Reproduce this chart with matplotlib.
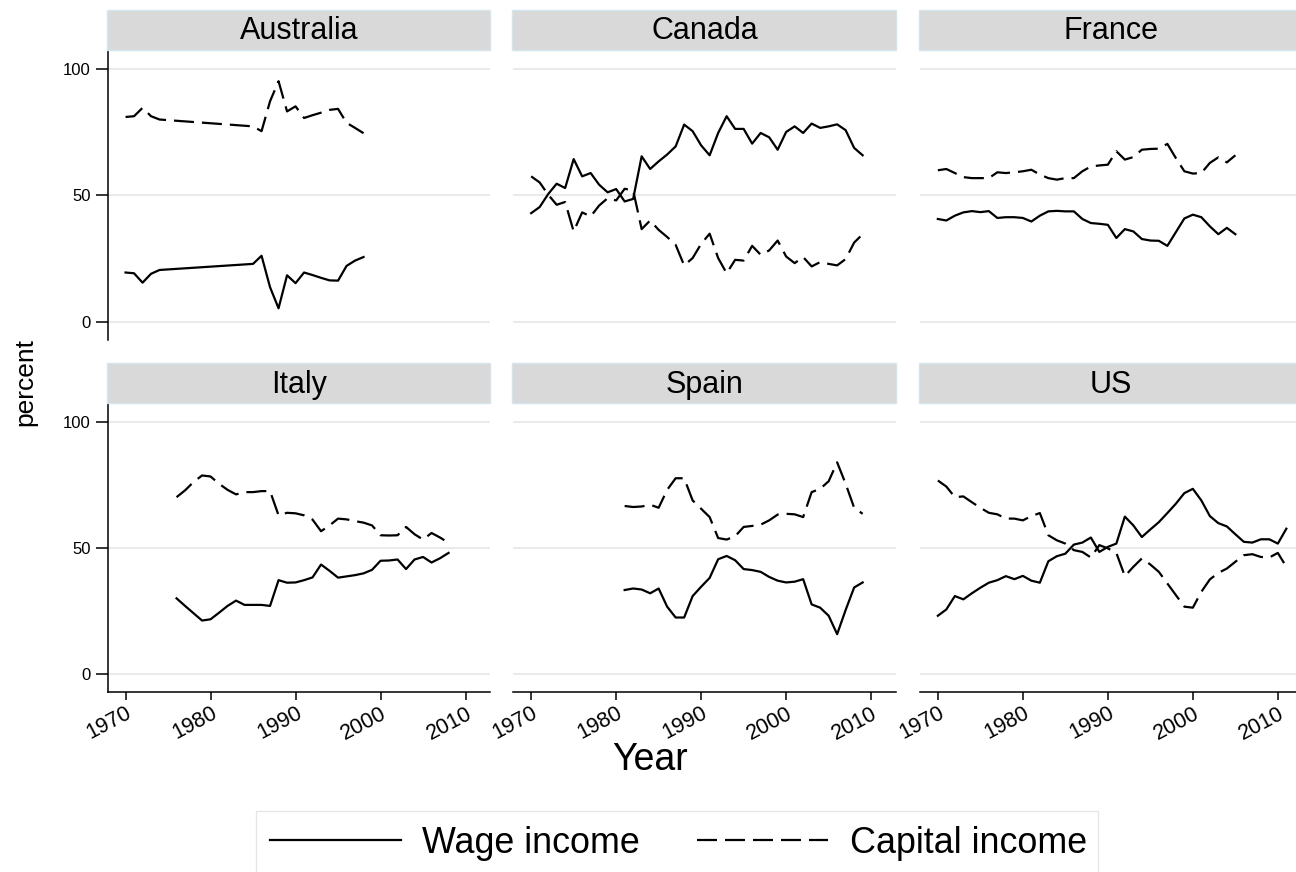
import matplotlib
matplotlib.use("Agg")
import matplotlib.pyplot as plt
from matplotlib.lines import Line2D
from matplotlib.patches import Rectangle

plt.rcParams['font.family'] = ['Liberation Sans', 'DejaVu Sans']

# income shares (percent) by country
aus_years = [1970, 1971, 1972, 1973, 1974, 1985, 1986, 1987, 1988, 1989,
             1990, 1991, 1992, 1993, 1994, 1995, 1996, 1997, 1998]
aus_wage = [19.6, 19.3, 15.6, 19.1, 20.6, 23.0, 26.2, 13.8, 5.5, 18.5,
            15.4, 19.6, 18.6, 17.5, 16.5, 16.4, 22.2, 24.3, 25.7]
aus_capital = [80.9, 81.2, 84.5, 81.2, 79.9, 77.2, 75.3, 87.1, 95.0, 83.1,
               85.1, 80.5, 81.6, 82.6, 83.7, 84.1, 78.6, 76.6, 74.5]

can_years = list(range(1970, 2010))
can_wage = [43.0, 45.4, 50.5, 54.6, 52.9, 64.3, 57.5, 58.8, 54.2, 51.2,
            52.5, 47.6, 48.6, 65.4, 60.4, 63.4, 66.1, 69.3, 77.9, 75.3,
            69.7, 65.8, 74.6, 81.2, 76.2, 76.2, 70.4, 74.6, 72.9, 68.0,
            75.0, 77.2, 74.6, 78.3, 76.6, 77.2, 78.0, 75.7, 68.7, 65.8]
can_capital = [57.5, 55.1, 50.3, 46.3, 47.4, 35.8, 43.3, 41.7, 46.0, 48.9,
               48.0, 52.6, 52.0, 36.7, 40.1, 36.4, 33.6, 30.5, 22.4, 25.3,
               30.9, 34.9, 25.3, 19.3, 24.6, 24.3, 30.1, 26.6, 28.3, 32.2,
               25.9, 23.3, 25.7, 22.0, 23.7, 23.0, 22.4, 24.9, 31.4, 34.7]

fra_years = list(range(1970, 2006))
fra_wage = [40.7, 40.1, 42.0, 43.3, 43.8, 43.4, 43.8, 41.1, 41.4, 41.4,
            41.1, 39.7, 42.0, 43.7, 43.9, 43.7, 43.7, 40.7, 39.1, 38.8,
            38.4, 33.2, 36.7, 35.8, 32.8, 32.2, 32.1, 30.1, 35.5, 40.9,
            42.4, 41.4, 37.8, 34.7, 37.2, 34.7]
fra_capital = [59.9, 60.4, 58.8, 57.2, 56.8, 56.8, 56.8, 59.1, 58.8, 59.1,
               59.5, 60.1, 58.2, 56.8, 56.2, 56.8, 56.8, 59.5, 61.4, 61.8,
               62.1, 67.4, 64.1, 65.1, 68.0, 68.3, 68.4, 70.3, 64.7, 59.5,
               58.6, 58.8, 62.8, 65.0, 63.0, 65.8]

ita_years = list(range(1976, 2009))
ita_wage = [30.0, 27.0, 24.1, 21.2,
            21.7, 24.3, 27.0, 29.1, 27.4, 27.4, 27.4, 27.0, 37.2, 36.2,
            36.3, 37.2, 38.3, 43.4, 40.9, 38.2, 38.7, 39.2, 39.9, 41.3,
            44.9, 45.0, 45.4, 41.6, 45.4, 46.4, 44.2, 45.9, 48.0]
ita_capital = [70.1, 72.8, 76.1, 78.7,
               78.3, 75.4, 73.0, 71.2, 72.1, 72.1, 72.5, 72.5, 62.9, 63.9,
               63.7, 62.9, 61.2, 56.6, 58.9, 61.6, 61.3, 60.6, 60.0, 58.9,
               55.0, 54.9, 55.0, 58.3, 55.4, 53.3, 55.9, 54.1, 52.0]

esp_years = list(range(1981, 2010))
esp_wage = [33.3, 33.9, 33.5, 32.0, 33.9, 26.7, 22.4, 22.4, 30.9,
            34.6, 38.1, 45.5, 46.8, 45.1, 41.6, 41.2, 40.5, 38.5, 37.0,
            36.3, 36.6, 37.6, 27.6, 26.3, 23.1, 15.8, 25.4, 34.3, 36.3]
esp_capital = [66.6, 66.2, 66.4, 67.1, 65.9, 73.0, 77.6, 77.6, 68.8,
               65.5, 62.2, 53.9, 53.3, 54.6, 58.3, 58.7, 59.2, 60.9, 63.2,
               63.5, 63.3, 62.2, 72.1, 73.4, 76.4, 83.9, 75.4, 65.9, 63.5]

us_years = list(range(1970, 2012))
us_wage = [23.1, 25.6, 30.9, 29.6, 32.0, 34.2, 36.2, 37.2, 38.8, 37.6,
           38.9, 37.0, 36.2, 44.7, 46.7, 47.7, 51.3, 52.1, 54.1, 48.4,
           50.4, 51.7, 62.4, 58.9, 54.3, 57.3, 60.2, 63.8, 67.5, 71.7,
           73.4, 68.8, 62.6, 59.8, 58.5, 55.4, 52.4, 52.1, 53.4, 53.4,
           51.7, 57.6]
us_capital = [76.7, 74.3, 70.1, 70.4, 68.1, 65.9, 63.9, 63.3, 61.6, 61.6,
              60.9, 62.6, 63.8, 55.0, 53.0, 51.7, 49.1, 48.4, 46.2, 51.1,
              49.8, 48.0, 38.8, 42.5, 45.8, 43.4, 40.5, 35.9, 31.3, 26.7,
              26.3, 32.6, 37.5, 40.1, 41.8, 44.5, 47.1, 47.5, 46.4, 46.2,
              48.0, 42.5]

panels = [
    ('Australia', aus_years, aus_wage, aus_capital),
    ('Canada', can_years, can_wage, can_capital),
    ('France', fra_years, fra_wage, fra_capital),
    ('Italy', ita_years, ita_wage, ita_capital),
    ('Spain', esp_years, esp_wage, esp_capital),
    ('US', us_years, us_wage, us_capital),
]
year_ticks = [1970, 1980, 1990, 2000, 2010]
pct_ticks = [0, 50, 100]

# layout in pixels
W, H = 1296, 872
col_left = [107.7, 513.3, 920.0]
col_width = 382.5
row_top = [50.0, 403.3]
row_height = [290.0, 288.4]
strip_h = 40.0

LW = 1.6
DASH = (0, (9, 3.6))

fig = plt.figure(figsize=(W / 100, H / 100), dpi=100)


def fx(px):
    return px / W


def fy(py):
    return 1 - py / H


for i, (name, years, wage, capital) in enumerate(panels):
    r, c = divmod(i, 3)
    x0, y0, h = col_left[c], row_top[r], row_height[r]
    ax = fig.add_axes([fx(x0), fy(y0 + h), col_width / W, h / H])
    ax.plot(years, wage, color='black', lw=LW)
    ax.plot(years, capital, color='black', lw=LW, linestyle=DASH)
    ax.set_xlim(1967.9, 2012.9)
    ax.set_ylim(-7, 107.3)
    ax.set_yticks(pct_ticks)
    ax.set_xticks(year_ticks, labels=[str(y) for y in year_ticks])
    ax.grid(axis='y', color='#eaeaea', lw=1.5)
    ax.set_axisbelow(True)
    for s in ('top', 'right'):
        ax.spines[s].set_visible(False)
    ax.spines['left'].set_visible(c == 0)
    ax.spines['bottom'].set_visible(r == 1)
    for s in ('left', 'bottom'):
        ax.spines[s].set_linewidth(1.1)
    ax.tick_params(axis='y', length=8.6, width=1.1, labelsize=12, pad=3.5,
                   left=(c == 0), labelleft=(c == 0))
    ax.tick_params(axis='x', length=6, width=1.1, labelsize=15.5, pad=2,
                   bottom=(r == 1), labelbottom=(r == 1))
    plt.setp(ax.get_xticklabels(), rotation=28, ha='right', va='top',
             rotation_mode='anchor')

    # panel header strip
    fig.add_artist(Rectangle((fx(x0 - 1), fy(y0)), (col_width + 1) / W, strip_h / H,
                             transform=fig.transFigure, facecolor='#d9d9d9',
                             edgecolor='#d5e5ee', lw=1))
    fig.text(fx(x0 + col_width / 2), fy(y0 - 10.8), name,
             ha='center', va='baseline', fontsize=22)

fig.text(fx(25), fy(382), 'percent', rotation=90, ha='center', va='center',
         fontsize=19)
fig.text(fx(650), fy(770), 'Year', ha='center', va='baseline', fontsize=27)

# legend box and entries
fig.add_artist(Rectangle((fx(256), fy(895)), 842 / W, 84 / H,
                         transform=fig.transFigure, facecolor='white',
                         edgecolor='#e6e6e6', lw=1))
handles = [Line2D([], [], color='black', lw=LW),
           Line2D([], [], color='black', lw=LW, linestyle=DASH)]
fig.legend(handles, ['Wage income', 'Capital income'], loc='center left',
           bbox_to_anchor=(fx(270), fy(843)), ncol=2, fontsize=25.8,
           handlelength=3.65, handletextpad=0.6, columnspacing=1.6,
           borderpad=0, frameon=False, borderaxespad=0)

fig.savefig('out.png', dpi=100)
